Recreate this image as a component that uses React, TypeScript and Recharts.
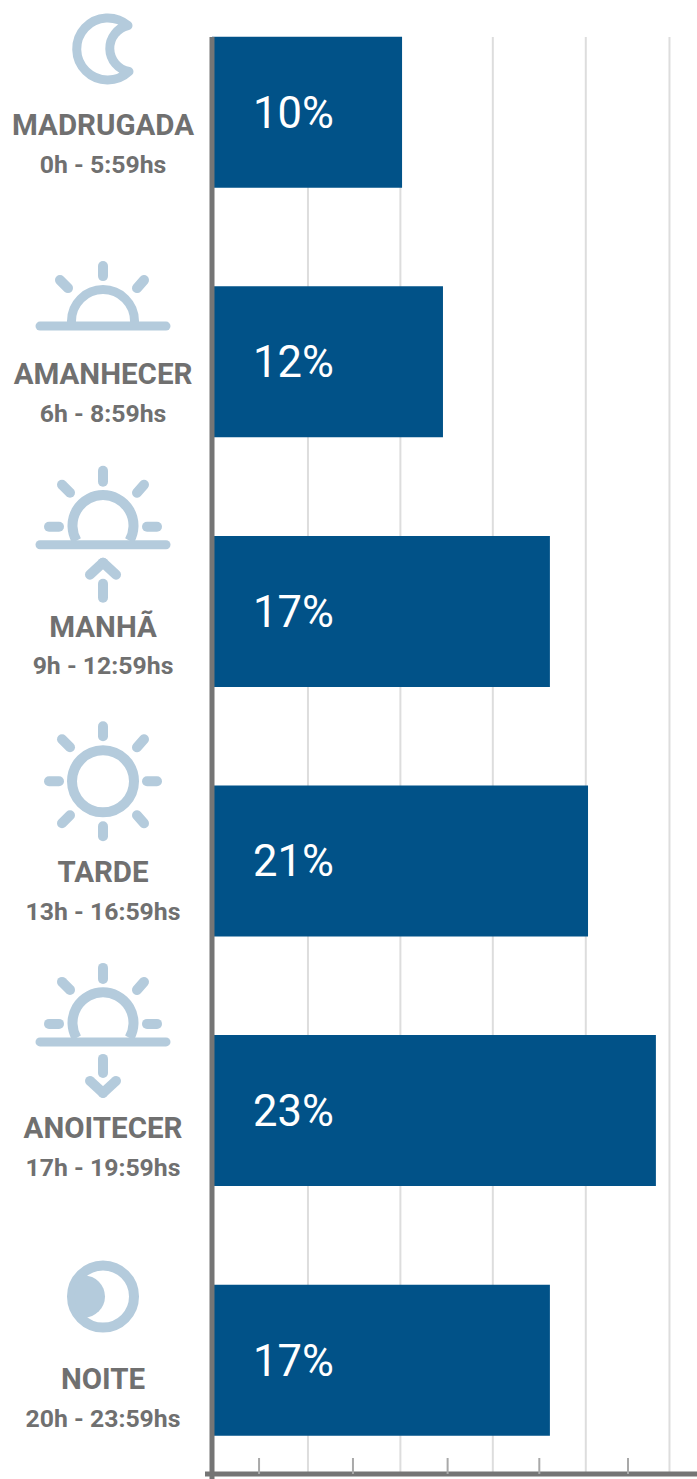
import { BarChart, Bar, XAxis, YAxis, CartesianGrid, LabelList } from 'recharts';

const periods = ['MADRUGADA', 'AMANHECER', 'MANHÃ', 'TARDE', 'ANOITECER', 'NOITE'];
const hours = ['0h - 5:59hs', '6h - 8:59hs', '9h - 12:59hs', '13h - 16:59hs', '17h - 19:59hs', '20h - 23:59hs'];
// printed share of each period
const shares = [10, 12, 17, 21, 23, 17];
// bar length as drawn, which does not follow the printed share exactly
const barLengths = [10.22, 12.42, 18.17, 20.22, 23.87, 18.17];
const gridValues = [5.16, 10.13, 15.1, 20.1, 24.6];
const tickValues = [2.53, 7.58, 12.67, 17.6, 22.37];

const rows = periods.map((period, i) => ({
  period,
  hours: hours[i],
  share: shares[i],
  length: barLengths[i],
}));

const ICON = '#b4cbdc';
const GREY = '#707070';
const AXIS = '#757575';
const FONT = 'Roboto, sans-serif';

type Seg = [number, number, number, number];

const Rays = ({ segs }: { segs: Seg[] }) => (
  <g stroke={ICON} strokeWidth={10} strokeLinecap="round" fill="none">
    {segs.map((s, i) => (
      <line key={i} x1={s[0]} y1={s[1]} x2={s[2]} y2={s[3]} />
    ))}
  </g>
);

const riseRays: Seg[] = [
  [0, -74, 0, -63],
  [-41, -60, -33, -52],
  [41, -60, 34, -52],
  [-54, -18, -44, -18],
  [44, -18, 54, -18],
];

// half sun on the horizon, drawn around the horizon's centre
const HalfSun = () => (
  <g>
    <path d="M-26.5 -4 A30.5 30.5 0 1 1 26.5 -4" fill="none" stroke={ICON} strokeWidth={10} />
    <Rays segs={riseRays} />
    <line x1={-63} y1={0} x2={63} y2={0} stroke={ICON} strokeWidth={9} strokeLinecap="round" />
  </g>
);

const Moon = () => (
  <path
    d="M25 -87 A31 31 0 1 0 26 -41 A23.5 23.5 0 0 1 25 -87"
    fill="none"
    stroke={ICON}
    strokeWidth={9}
    strokeLinejoin="round"
    strokeLinecap="round"
  />
);

const Dawn = () => (
  <g transform="translate(0 -36)">
    <path d="M-31.5 0 L-31.5 -5 A31.5 31.5 0 0 1 31.5 -5 L31.5 0" fill="none" stroke={ICON} strokeWidth={9} />
    <Rays segs={[[0, -60, 0, -50], [-43, -46, -35, -38], [41, -46, 34, -38]]} />
    <line x1={-63} y1={0} x2={63} y2={0} stroke={ICON} strokeWidth={9} strokeLinecap="round" />
  </g>
);

const Morning = () => (
  <g transform="translate(0 -67)">
    <HalfSun />
    <Rays segs={[[-13, 30, 0, 18], [13, 30, 0, 18], [0, 39, 0, 53]]} />
  </g>
);

const Afternoon = () => (
  <g transform="translate(0 -80)">
    <circle r={31} fill="none" stroke={ICON} strokeWidth={10} />
    <Rays
      segs={[
        [0, -55, 0, -45],
        [0, 45, 0, 55],
        [-54, 0, -44, 0],
        [44, 0, 54, 0],
        [-41, -42, -33, -34],
        [41, -42, 34, -34],
        [-41, 42, -33, 34],
        [41, 42, 34, 34],
      ]}
    />
  </g>
);

const Dusk = () => (
  <g transform="translate(0 -69)">
    <HalfSun />
    <Rays segs={[[0, 17, 0, 31], [-13, 39, 0, 51], [13, 39, 0, 51]]} />
  </g>
);

const Night = () => (
  <g transform="translate(0 -64)">
    <circle r={31} fill="none" stroke={ICON} strokeWidth={10} />
    <path d="M-19 -21 A20.5 20.5 0 0 1 -19 21 A28.3 28.3 0 0 1 -19 -21" fill={ICON} />
  </g>
);

// icon and the two text baselines below the axis tick of each row
const rowStyle = [
  { Icon: Moon, nameY: 22.5, hoursY: 60 },
  { Icon: Dawn, nameY: 22, hoursY: 60 },
  { Icon: Morning, nameY: 25, hoursY: 62.3 },
  { Icon: Afternoon, nameY: 20.4, hoursY: 58.7 },
  { Icon: Dusk, nameY: 26.8, hoursY: 65 },
  { Icon: Night, nameY: 28.5, hoursY: 66.5 },
];

function PeriodTick({ y, payload, index }: any) {
  const { Icon, nameY, hoursY } = rowStyle[index];
  return (
    <g transform={`translate(103 ${y})`}>
      <Icon />
      <text textAnchor="middle" y={nameY} fontFamily={FONT} fontWeight={700} fontSize={29.5} fill={GREY}>
        {payload.value}
      </text>
      <text textAnchor="middle" y={hoursY} fontFamily={FONT} fontWeight={700} fontSize={24.8} fill={GREY}>
        {hours[index]}
      </text>
    </g>
  );
}

const ShortTick = ({ x, y }: any) => (
  <line x1={x} x2={x} y1={y - 16} y2={y} stroke="#a9a9a9" strokeWidth={2} />
);

export default function App() {
  return (
    <div style={{ position: 'absolute', left: 0, top: 0, width: 697, height: 1479, background: '#fff' }}>
      <BarChart
        width={697}
        height={1479}
        layout="vertical"
        data={rows}
        margin={{ top: 37, right: 0, bottom: 0, left: 0 }}
      >
        <CartesianGrid horizontal={false} verticalValues={gridValues} stroke="#dddddd" strokeWidth={2} />
        <XAxis
          type="number"
          domain={[0, 26.08]}
          ticks={tickValues}
          height={5}
          interval={0}
          tickLine={false}
          tickSize={0}
          tickMargin={0}
          tick={<ShortTick />}
          axisLine={{ stroke: AXIS, strokeWidth: 5 }}
        />
        <YAxis
          type="category"
          dataKey="period"
          scale="point"
          width={212}
          interval={0}
          padding={{ top: 75.5, bottom: 113.5 }}
          tickLine={false}
          tick={<PeriodTick />}
          axisLine={{ stroke: AXIS, strokeWidth: 5 }}
        />
        <Bar dataKey="length" barSize={151} fill="#015288" isAnimationActive={false}>
          <LabelList
            dataKey="share"
            position="insideLeft"
            offset={41}
            formatter={(v: any) => `${v}%`}
            fill="#ffffff"
            fontFamily={FONT}
            fontWeight={400}
            fontSize={43.5}
          />
        </Bar>
        <line x1={205} x2={212} y1={1474} y2={1474} stroke={AXIS} strokeWidth={5} />
        <line x1={212} x2={212} y1={1474} y2={1479} stroke={AXIS} strokeWidth={5} />
      </BarChart>
    </div>
  );
}
